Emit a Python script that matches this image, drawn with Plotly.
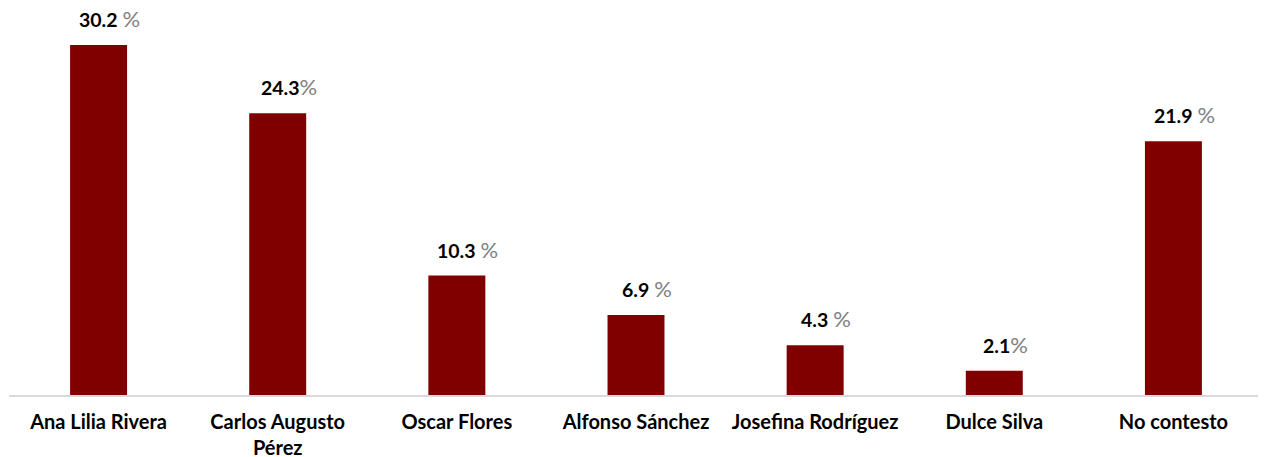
import plotly.graph_objects as go

categories = ["Ana Lilia Rivera", "Carlos Augusto<br>Pérez", "Oscar Flores",
              "Alfonso Sánchez", "Josefina Rodríguez", "Dulce Silva", "No contesto"]
values = [30.2, 24.3, 10.3, 6.9, 4.3, 2.1, 21.9]
value_labels = ["30.2", "24.3", "10.3", "6.9", "4.3", "2.1", "21.9"]
pct_sep = [" ", "", " ", " ", " ", "", " "]

BAR = "#800000"
FONT = "Lato"

fig = go.Figure()
fig.add_trace(go.Bar(x=categories, y=values, marker_color=BAR,
                     marker_line_width=0, hoverinfo="skip"))

for cat, v, lab, sep in zip(categories, values, value_labels, pct_sep):
    txt = ("<b>" + lab + "</b>" + sep +
           "<span style='color:#808080;font-size:22px'>%</span>")
    fig.add_annotation(x=cat, y=v, text=txt, showarrow=False,
                       xanchor="center", yanchor="bottom", yshift=11, xshift=11,
                       font=dict(family=FONT, size=19.5, color="#000000"))

fig.update_layout(
    width=1258, height=449,
    margin=dict(l=1, r=3, t=0, b=62, autoexpand=False),
    paper_bgcolor="white", plot_bgcolor="white",
    showlegend=False, bargap=0.682,
    font=dict(family=FONT),
)
fig.update_xaxes(showline=True, linecolor="#d9d9d9", linewidth=2,
                 ticks="", showgrid=False, automargin=False, ticklabelstandoff=8,
                 tickfont=dict(family=FONT, size=20, color="#000000", weight="bold"))
fig.update_yaxes(range=[0, 33.39], visible=False, showgrid=False, automargin=False)

fig.write_html("out.html")
